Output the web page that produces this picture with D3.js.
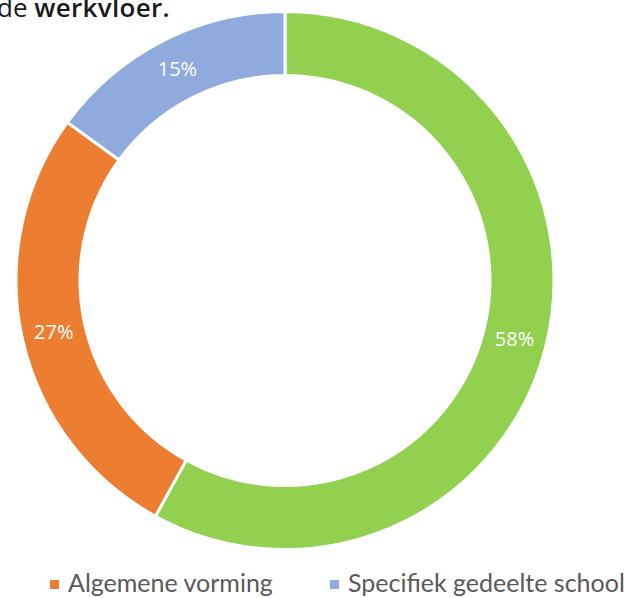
<!DOCTYPE html>
<html>
<head>
<meta charset="utf-8">
<script src="https://cdn.jsdelivr.net/npm/d3@7"></script>
<style>
  html, body { margin: 0; padding: 0; background: #fff; }
  svg { display: block; }
</style>
</head>
<body>
<svg id="chart" width="638" height="598"></svg>
<script>
const categories = ["Werkvloer", "Algemene vorming", "Specifiek gedeelte school"];
const values = [58, 27, 15];
const labels = ["58%", "27%", "15%"];
const colors = ["#92D050", "#ED7D31", "#8FAADC"];
const legendItems = ["Algemene vorming", "Specifiek gedeelte school"];
const legendColors = ["#ED7D31", "#8FAADC"];

const svg = d3.select("#chart");
const cx = 285, cy = 280.5, outerR = 269, innerR = 205;

// Title fragment (cropped text from surrounding document)
const title = svg.append("text")
  .attr("x", -3).attr("y", 17)
  .attr("font-family", "'Open Sans', sans-serif")
  .attr("font-size", 26)
  .attr("fill", "#1a1a1a");
title.append("tspan").text("de ").attr("font-weight", 400);
title.append("tspan").text("werkvloer.").attr("font-weight", 600).attr("letter-spacing", 0.3);

const pie = d3.pie().sort(null).value(d => d);
const arcs = pie(values);
const arc = d3.arc().innerRadius(innerR).outerRadius(outerR);
const labelArc = d3.arc().innerRadius((innerR + outerR) / 2).outerRadius((innerR + outerR) / 2);

const g = svg.append("g").attr("transform", `translate(${cx},${cy})`);
g.selectAll("path").data(arcs).join("path")
  .attr("d", arc)
  .attr("fill", (d, i) => colors[i])
  .attr("stroke", "#fff")
  .attr("stroke-width", 3);

g.selectAll("text.lbl").data(arcs).join("text")
  .attr("class", "lbl")
  .attr("transform", d => {
    const [x, y] = labelArc.centroid(d);
    return `translate(${x},${y})`;
  })
  .attr("text-anchor", "middle")
  .attr("dy", "0.35em")
  .attr("font-family", "'Open Sans', sans-serif")
  .attr("font-size", 20)
  .attr("fill", "#fff")
  .text((d, i) => labels[i]);

// Legend
const legendX = [50, 330];
const lg = svg.append("g");
legendItems.forEach((name, i) => {
  lg.append("rect")
    .attr("x", legendX[i]).attr("y", 580)
    .attr("width", 9).attr("height", 9)
    .attr("fill", legendColors[i]);
  lg.append("text")
    .attr("x", legendX[i] + 18).attr("y", 592)
    .attr("font-family", "Lato, sans-serif")
    .attr("font-size", 25)
    .attr("fill", "#595959")
    .text(name);
});
</script>
</body>
</html>
